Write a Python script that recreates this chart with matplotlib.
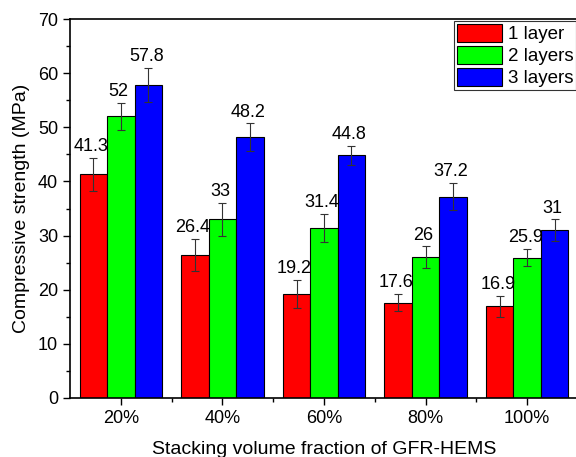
import numpy as np
import matplotlib.pyplot as plt
from matplotlib.ticker import MultipleLocator, FixedLocator

plt.rcParams['font.family'] = ['Liberation Sans', 'DejaVu Sans']

categories = ['20%', '40%', '60%', '80%', '100%']
series_names = ['1 layer', '2 layers', '3 layers']
layer1 = [41.3, 26.4, 19.2, 17.6, 16.9]
layer2 = [52, 33, 31.4, 26, 25.9]
layer3 = [57.8, 48.2, 44.8, 37.2, 31]
err1 = [3.1, 3.0, 2.6, 1.6, 2.0]
err2 = [2.5, 3.0, 2.6, 2.0, 1.6]
err3 = [3.2, 2.5, 1.8, 2.5, 2.0]
colors = ['#ff0000', '#00ff00', '#0000ff']

fig = plt.figure(figsize=(5.76, 4.57), dpi=100)
ax = fig.add_axes([70 / 576, 59 / 457, 508 / 576, 379 / 457])

x = np.arange(1, len(categories) + 1)
width = 0.27
values = [layer1, layer2, layer3]
errors = [err1, err2, err3]

for i, (vals, errs) in enumerate(zip(values, errors)):
    pos = x + (i - 1) * width
    ax.bar(pos, vals, width, color=colors[i], edgecolor='black', linewidth=0.8,
           label=series_names[i], zorder=2)
    ax.errorbar(pos, vals, yerr=errs, fmt='none', ecolor='#333333', elinewidth=0.8,
                capsize=3, capthick=0.8, zorder=3)
    for p, v, e in zip(pos, vals, errs):
        ax.text(p - 0.02, v + e + 0.5, f'{v:g}', ha='center', va='bottom', fontsize=13)

ax.set_xlim(0.5, 5.5)
ax.set_ylim(0, 70)
ax.set_xticks(x)
ax.set_xticklabels(categories)
ax.xaxis.set_minor_locator(FixedLocator(x[:-1] + 0.5))
ax.yaxis.set_major_locator(MultipleLocator(10))
ax.yaxis.set_minor_locator(MultipleLocator(5))
ax.tick_params(axis='both', which='major', direction='out', length=5, width=1, labelsize=13)
ax.tick_params(axis='both', which='minor', direction='out', length=3, width=1)
for s in ax.spines.values():
    s.set_linewidth(1.2)

ax.set_ylabel('Compressive strength (MPa)', fontsize=14, labelpad=6)
ax.set_xlabel('Stacking volume fraction of GFR-HEMS', fontsize=14, labelpad=10)

leg = ax.legend(loc='upper right', fontsize=13.5, frameon=True, fancybox=False,
                edgecolor='black', borderaxespad=0.1, handlelength=2.4, handleheight=1.1,
                labelspacing=0.15, handletextpad=0.3, borderpad=0.15)
leg.get_frame().set_linewidth(0.8)

fig.savefig('out.png', dpi=100)
